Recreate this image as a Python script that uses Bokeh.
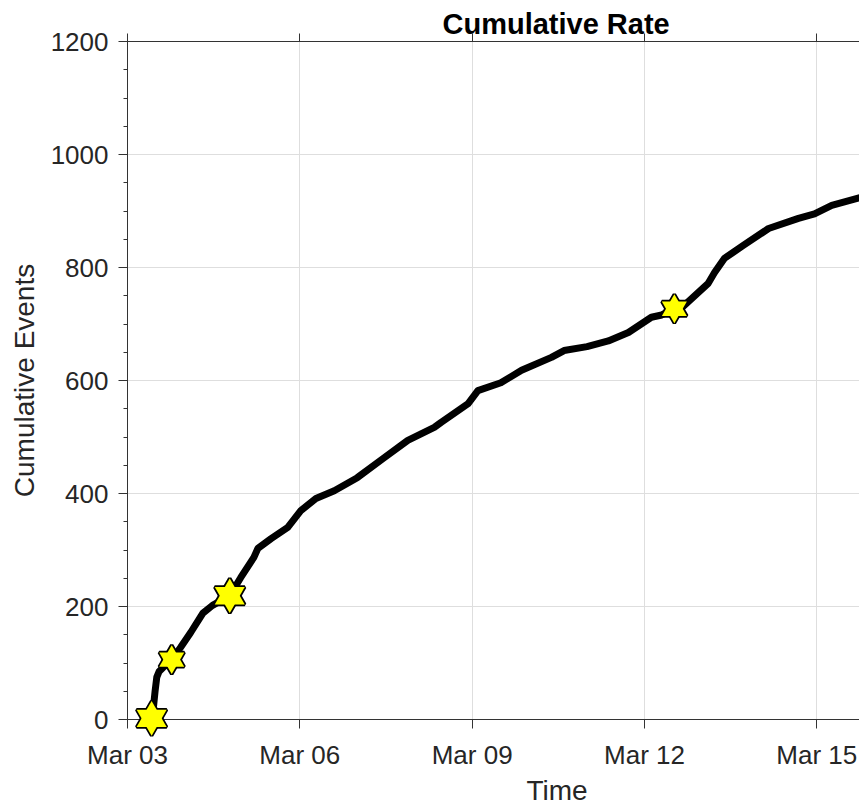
import pandas as pd
from bokeh.plotting import figure
from bokeh.models import (DatetimeAxis, FixedTicker, DatetimeTickFormatter, Title,
                          Range1d, SingleIntervalTicker, ColumnDataSource,
                          CustomJSTickFormatter)
from bokeh.embed import file_html
from bokeh.resources import INLINE

# ---------------- data ----------------
start_date = "2019-03-03"
end_date = "2019-03-15 17:50"
tick_dates = ["2019-03-03", "2019-03-06", "2019-03-09", "2019-03-12", "2019-03-15"]

# days after Mar 03 00:00 and cumulative event count
curve_days = [0.42, 0.45, 0.48, 0.51, 0.55, 0.62, 0.77, 0.92, 1.10, 1.31, 1.48, 1.78,
              1.97, 2.20, 2.27, 2.50, 2.79, 3.02, 3.28, 3.60, 4.00, 4.45, 4.88, 5.34,
              5.46, 5.93, 6.10, 6.50, 6.86, 7.38, 7.60, 8.00, 8.37, 8.72, 9.12, 9.30,
              9.52, 9.65, 10.11, 10.22, 10.39, 10.72, 11.16, 11.68, 11.96, 12.26, 12.76]
curve_counts = [2, 20, 50, 75, 85, 92, 106, 127, 154, 188, 202, 219,
                251, 287, 303, 320, 340, 370, 391, 405, 428, 462, 494, 517,
                526, 559, 582, 596, 618, 641, 653, 660, 670, 685, 712, 716,
                727, 729, 772, 791, 816, 839, 869, 887, 895, 910, 924]

star_days = [0.42, 0.77, 1.78, 9.52]
star_counts = [2, 106, 219, 727]
star_sizes = [30, 25, 30, 25]

# ---------------- build ----------------
t0 = pd.Timestamp(start_date)
cx = [t0 + pd.Timedelta(days=d) for d in curve_days]
sx = [t0 + pd.Timedelta(days=d) for d in star_days]
ticks_ms = [pd.Timestamp(d).value / 1e6 for d in tick_dates]

FONT = "Liberation Sans"
AX_COL = "#333333"
TXT_COL = "#262626"
GRID_COL = "#dedede"

p = figure(width=859, height=807, x_axis_type="datetime", output_backend="svg",
           toolbar_location=None, title=None,
           x_range=Range1d(pd.Timestamp(start_date), pd.Timestamp(end_date)),
           y_range=Range1d(0, 1200),
           min_border_left=127, min_border_right=0, min_border_top=41,
           min_border_bottom=88)
p.outline_line_color = None
p.background_fill_color = "white"
p.border_fill_color = "white"

xt = FixedTicker(ticks=ticks_ms)
fmt = DatetimeTickFormatter(days="%b %d", months="%b %d", hours="%b %d")

xa = p.xaxis[0]
xa.ticker = xt
xa.formatter = fmt
xa.major_tick_out = 9
xa.major_tick_in = 0
xa.minor_tick_line_color = None
xa.major_label_standoff = 11
xa.major_label_text_font = FONT
xa.major_label_text_font_size = "26px"
xa.major_label_text_color = TXT_COL
xa.axis_line_color = AX_COL
xa.major_tick_line_color = AX_COL

ya = p.yaxis[0]
ya.ticker = SingleIntervalTicker(interval=200, num_minor_ticks=4)
ya.major_tick_out = 9
ya.major_tick_in = 0
ya.minor_tick_out = 4
ya.minor_tick_in = 0
ya.major_label_standoff = 10
ya.major_label_text_font = FONT
ya.major_label_text_font_size = "26px"
ya.major_label_text_color = TXT_COL
ya.axis_line_color = AX_COL
ya.major_tick_line_color = AX_COL
ya.minor_tick_line_color = AX_COL
ya.axis_label = "Cumulative Events"
ya.axis_label_text_font = FONT
ya.axis_label_text_font_size = "28px"
ya.axis_label_text_font_style = "normal"
ya.axis_label_text_color = TXT_COL
ya.axis_label_standoff = 8

top = DatetimeAxis(ticker=xt, formatter=CustomJSTickFormatter(code="return ''"))
top.major_tick_out = 8
top.major_tick_in = 0
top.minor_tick_line_color = None
top.major_label_standoff = 0
top.axis_line_color = AX_COL
top.major_tick_line_color = AX_COL
p.add_layout(top, "above")

p.xgrid.ticker = xt
p.xgrid.grid_line_color = GRID_COL
p.ygrid.grid_line_color = GRID_COL

p.line(cx, curve_counts, line_width=7, line_color="black",
       line_join="round", line_cap="round")

src = ColumnDataSource(dict(x=sx, y=star_counts, s=star_sizes))
for m in ("triangle", "inverted_triangle"):
    p.scatter("x", "y", size="s", marker=m, source=src, fill_color="#ffff00",
              line_color="black", line_width=3.5, level="overlay")
for m in ("triangle", "inverted_triangle"):
    p.scatter("x", "y", size="s", marker=m, source=src, fill_color="#ffff00",
              line_color=None, level="overlay")

title = Title(text="Cumulative Rate", align="left", offset=315, standoff=-12,
              text_font=FONT, text_font_size="29px", text_font_style="bold",
              text_color="black")
p.add_layout(title, "above")
xlabel = Title(text="Time", align="left", offset=399, standoff=0,
               text_font=FONT, text_font_size="28px", text_font_style="normal",
               text_color=TXT_COL)
p.add_layout(xlabel, "below")

open("out.html", "w").write(file_html(p, INLINE))
